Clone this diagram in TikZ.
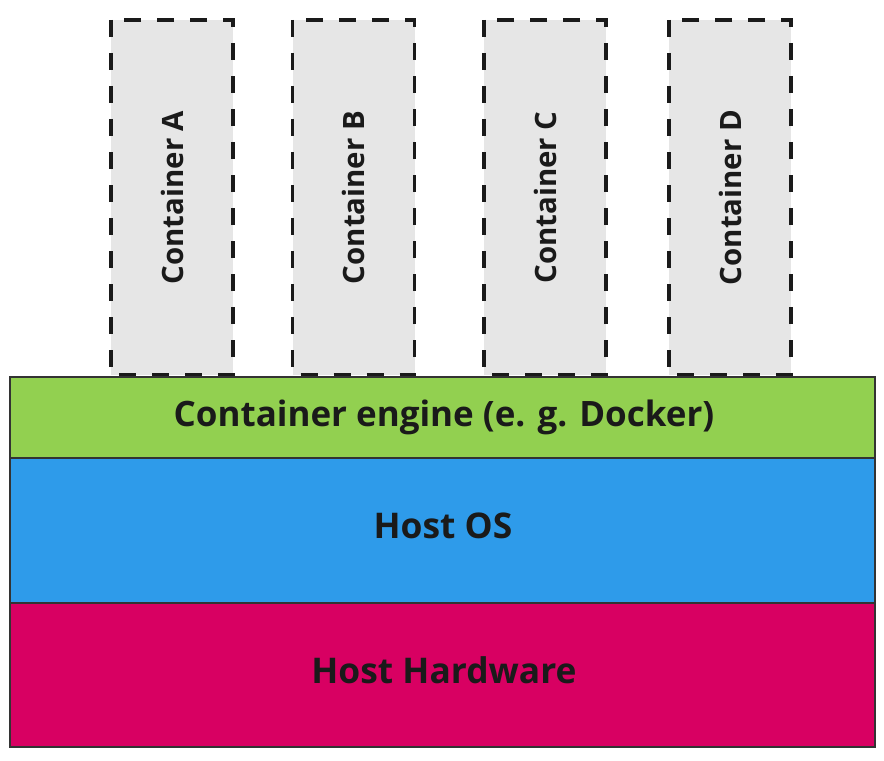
\documentclass[tikz,border=0pt]{standalone}
\usepackage{fontspec}
\setmainfont{Open Sans}
\definecolor{engine}{HTML}{92D050}
\definecolor{hostos}{HTML}{2E9BEA}
\definecolor{hosthw}{HTML}{D80062}
\definecolor{contfill}{HTML}{E6E6E6}
\definecolor{ink}{HTML}{1A1A1A}
\definecolor{edge}{HTML}{333333}
\begin{document}
\begin{tikzpicture}[x=1bp,y=-1bp,
  contbox/.style={draw=ink, fill=contfill, line width=3.5bp, dash pattern=on 17bp off 16bp,
    rotate=90, minimum width=355bp, minimum height=122bp, inner sep=0pt,
    text=ink, font=\fontsize{29.5}{34}\selectfont\bfseries},
  layer/.style={draw=edge, line width=2bp, minimum width=865bp, inner sep=0pt},
  layertext/.style={anchor=base, inner sep=0pt, text=ink, font=\fontsize{35.5}{40}\selectfont\bfseries}]
\useasboundingbox (0,0) rectangle (884,761);
\node[contbox] (ca) at (172,197.5) {Container A};
\node[contbox] (cb) at (353.5,197.5) {Container B};
\node[contbox] (cc) at (545,197.5) {Container C};
\node[contbox] (cd) at (730,197.5) {Container D};
\node[layer, fill=engine, minimum height=81bp] (eng) at (442.5,417.5) {};
\node[layer, fill=hostos, minimum height=145bp] (os) at (442.5,530.5) {};
\node[layer, fill=hosthw, minimum height=144bp] (hw) at (442.5,675) {};
\node[layertext, font=\fontsize{35.1}{40}\selectfont\bfseries] (engt) at (444,426) {Container engine (e. g. Docker)};
\node[layertext] (ost) at (443,538) {Host OS};
\node[layertext] (hwt) at (444,683) {Host Hardware};
\end{tikzpicture}
\end{document}
